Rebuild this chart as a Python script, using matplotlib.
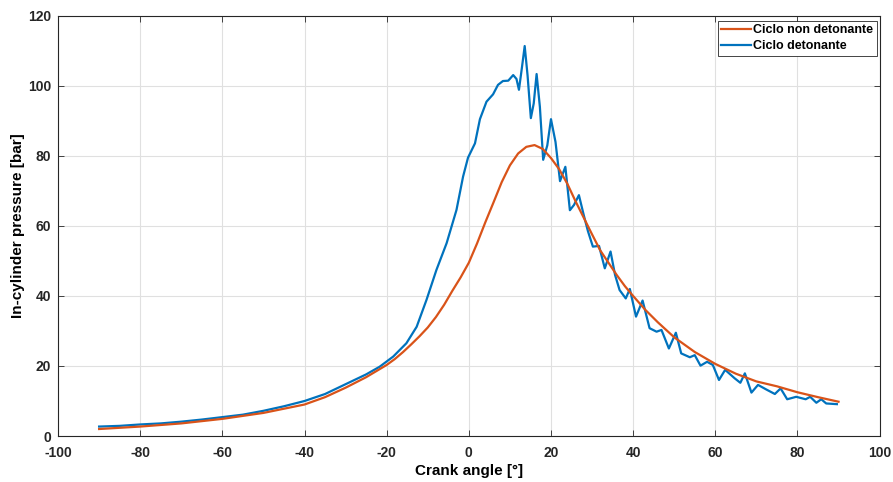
import numpy as np
import matplotlib.pyplot as plt

plt.rcParams['font.family'] = ['Liberation Sans', 'DejaVu Sans']
plt.rcParams['axes.unicode_minus'] = False

# non-knocking cycle (smooth)
theta_nd = [-90, -80, -70, -60, -50, -40, -35, -30, -25, -22, -20, -18, -16, -14,
            -12, -10, -8, -6, -4, -2, 0, 2, 4, 6, 8, 10, 12, 14, 16, 18, 20, 22,
            24, 26, 28, 30, 32, 34, 36, 38, 40, 43, 46, 50, 55, 60, 65, 70, 75,
            80, 85, 90]
p_nd = [2.0, 2.7, 3.6, 4.9, 6.6, 9.0, 11.1, 13.8, 16.8, 18.9, 20.3, 22.0, 24.0,
        26.2, 28.5, 31.0, 34.0, 37.5, 41.5, 45.3, 49.5, 55.0, 61.0, 66.7, 72.5,
        77.3, 80.7, 82.6, 83.1, 82.0, 79.4, 76.2, 72.0, 67.0, 62.3, 57.6, 53.0,
        49.5, 46.0, 42.8, 40.0, 36.0, 32.5, 28.2, 24.0, 20.6, 17.8, 15.6, 14.2,
        12.5, 11.1, 9.8]

# knocking cycle (oscillating)
theta_d = [-90, -85, -80, -75, -70, -65, -60, -55, -50, -45, -40, -35, -30, -25,
           -21.7, -18.4, -15.2, -12.7, -10.3, -7.9, -5.4, -3.0, -1.4, -0.2, 1.5,
           2.7, 4.3, 5.9, 7.1, 8.3, 9.6, 10.8, 11.6, 12.2, 12.9, 13.6, 14.3, 15.1,
           15.8, 16.5, 17.3, 18.1, 19.1, 20.0, 21.1, 22.2, 23.5, 24.6, 25.6, 26.8,
           28.0, 29.0, 30.2, 31.7, 33.1, 34.5, 35.6, 36.7, 38.2, 39.2, 40.7, 42.3,
           44.0, 45.7, 46.9, 48.7, 50.4, 51.7, 53.8, 55.0, 56.4, 58.0, 59.4, 60.9,
           62.4, 64.7, 66.1, 67.2, 68.8, 70.4, 72.4, 74.5, 75.9, 77.5, 79.7, 82.0,
           83.1, 84.6, 85.8, 87.0, 89.6]
p_d = [2.7, 2.9, 3.3, 3.6, 4.1, 4.7, 5.4, 6.1, 7.2, 8.5, 10.0, 12.0, 14.8, 17.6,
       19.8, 22.7, 26.5, 31.2, 38.9, 47.4, 55.1, 64.6, 74.1, 79.5, 83.6, 90.5,
       95.5, 97.6, 100.3, 101.4, 101.5, 103.1, 102.0, 98.9, 105.0, 111.4, 103.0,
       90.8, 95.0, 103.4, 94.0, 78.9, 83.0, 90.5, 84.0, 72.8, 76.9, 64.5, 66.0,
       68.8, 63.0, 58.5, 54.1, 54.3, 47.9, 52.7, 46.0, 41.7, 39.3, 42.0, 34.1,
       38.7, 30.8, 29.8, 30.3, 25.0, 29.5, 23.6, 22.5, 23.1, 20.1, 21.2, 20.3,
       16.0, 18.9, 16.5, 15.2, 17.9, 12.4, 14.6, 13.3, 12.0, 13.6, 10.5, 11.2,
       10.5, 11.2, 9.5, 10.5, 9.3, 9.1]

fig = plt.figure(figsize=(8.93, 4.82), dpi=100)
ax = fig.add_axes([0.065, 0.0954, 0.92, 0.8716])

l_d, = ax.plot(theta_d, p_d, color='#0072BD', lw=1.6, label='Ciclo detonante')
l_nd, = ax.plot(theta_nd, p_nd, color='#D95319', lw=1.6, label='Ciclo non detonante')

ax.set_xlim(-100, 100); ax.set_ylim(0, 120)
ax.set_xticks(np.arange(-100, 101, 20)); ax.set_yticks(np.arange(0, 121, 20))
ax.grid(True, color='#e0e0e0', lw=0.8)
ax.set_axisbelow(True)
ax.tick_params(direction='in', length=4, width=0.6, colors='#262626',
               labelsize=10, top=True, right=True)
ax.tick_params(axis='x', pad=7)
ax.tick_params(axis='y', pad=5)
for lab in ax.get_xticklabels() + ax.get_yticklabels():
    lab.set_fontweight('bold')
for s in ax.spines.values():
    s.set_color('#262626'); s.set_linewidth(0.8)

ax.set_xlabel('Crank angle [°]', fontsize=11, fontweight='bold', labelpad=3)
ax.set_ylabel('In-cylinder pressure [bar]', fontsize=11, fontweight='bold', labelpad=2)

leg = ax.legend(handles=[l_nd, l_d], loc='upper right',
                prop={'weight': 'bold', 'size': 9}, handlelength=2.4,
                handletextpad=0.15, borderpad=0.3, borderaxespad=0.2,
                labelspacing=0.3, fancybox=False, framealpha=1,
                edgecolor='#262626', bbox_to_anchor=(1.0, 0.995))
leg.get_frame().set_linewidth(0.6)

fig.savefig('out.png', dpi=100)
